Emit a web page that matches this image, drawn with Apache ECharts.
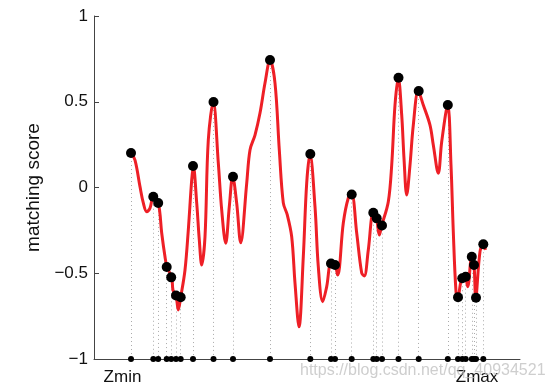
<!DOCTYPE html>
<html>
<head>
<meta charset="utf-8">
<script src="https://cdn.jsdelivr.net/npm/echarts@6/dist/echarts.min.js"></script>
<style>html,body{margin:0;padding:0;background:#fff;}#c{width:554px;height:392px;}</style>
</head>
<body>
<div id="c"></div>
<script>
// red matching-score curve (position along Z, score)
const curveX = [37,41,46,49.3,52.7,56,59.3,64.3,67.7,71,73,77.7,79,82,84.3,86.7,91,94.3,97.7,99.3,102.7,105.3,107.7,111,114.3,119.3,124.3,127.7,131.7,135.3,138.7,142.7,146.7,152.7,156,161,166,171,176,181,185.3,189.3,193.3,197.7,201,205,209.3,212.7,216,221,224.3,228.7,232.7,237,241,243.7,249.3,254.3,257.7,262.7,267.7,270.3,274.3,279.3,282.5,285.3,287.7,294.3,297.7,301,304.3,307.7,310,312.7,316,319.3,324.3,329.3,336,339.3,344.3,347.7,353.7,357,359.3,362,363.7,367.7,371,373.7,377.7,380,381.7,386,389.3,391.5];
const curveY = [0.201,0.160,0.005,-0.090,-0.141,-0.120,-0.054,-0.090,-0.265,-0.404,-0.464,-0.524,-0.598,-0.630,-0.714,-0.640,-0.481,-0.248,0.044,0.125,-0.090,-0.306,-0.452,-0.287,0.277,0.499,0.143,-0.131,-0.325,-0.112,0.063,-0.092,-0.322,0.024,0.219,0.306,0.434,0.609,0.743,0.609,0.219,-0.090,-0.160,-0.287,-0.557,-0.812,-0.403,0.026,0.195,-0.112,-0.462,-0.666,-0.578,-0.443,-0.452,-0.510,-0.207,-0.061,-0.041,-0.265,-0.499,-0.516,-0.364,-0.147,-0.180,-0.277,-0.222,-0.083,0.131,0.481,0.640,0.423,0.170,-0.044,0.131,0.364,0.563,0.481,0.364,0.248,0.083,0.267,0.481,0.131,-0.258,-0.608,-0.640,-0.529,-0.520,-0.578,-0.404,-0.452,-0.643,-0.374,-0.331,-0.364];
// detected local maxima
const dotX = [37,59.3,64.2,72.7,77.2,82,86.7,99,119.5,139,176,216.3,237,241,257.7,279.3,282.7,288,304.5,324.7,353.8,364,368.3,371.7,377.8,380,382,389.3];
const dotY = [0.201,-0.054,-0.090,-0.464,-0.524,-0.630,-0.640,0.125,0.499,0.063,0.743,0.195,-0.443,-0.452,-0.041,-0.147,-0.180,-0.222,0.640,0.563,0.481,-0.640,-0.529,-0.520,-0.404,-0.452,-0.643,-0.331];
const baseY = -1;
// x-axis tick labels
const xLabelPos = [28.5, 383];
const xLabelText = ['Zmin', 'Zmax'];
const yTicks = [-1, -0.5, 0, 0.5, 1];

const chart = echarts.init(document.getElementById('c'));
const font = 'Liberation Sans, Arial, Helvetica, sans-serif';
chart.setOption({
  animation: false,
  backgroundColor: '#fff',
  grid: { left: 94, right: 34, top: 16, bottom: 33 },
  xAxis: {
    type: 'value', min: 0, max: 426,
    axisLine: { show: true, onZero: false, lineStyle: { color: '#444', width: 1 } },
    axisTick: { show: false },
    splitLine: { show: false },
    axisLabel: {
      customValues: xLabelPos,
      margin: 10,
      color: '#111', fontSize: 17, fontFamily: font,
      formatter: v => { const i = xLabelPos.indexOf(v); return i >= 0 ? xLabelText[i] : ''; }
    }
  },
  yAxis: {
    type: 'value', min: yTicks[0], max: yTicks[yTicks.length-1], interval: 0.5,
    name: 'matching score', nameLocation: 'middle', nameGap: 50,
    nameTextStyle: { color: '#111', fontSize: 19, fontFamily: font },
    axisLine: { show: true, onZero: false, lineStyle: { color: '#444', width: 1 } },
    axisTick: { show: true, inside: true, length: 5, lineStyle: { color: '#444' } },
    splitLine: { show: false },
    axisLabel: {
      margin: 6, color: '#111', fontSize: 17, fontFamily: font,
      formatter: v => String(v).replace('-', '\u2212')
    }
  },
  graphic: [{
    type: 'text', left: 300, top: 363, z: 100,
    style: { text: 'https://blog.csdn.net/qq_40934521', fill: 'rgba(190,190,190,0.75)', fontSize: 16, fontFamily: font }
  }],
  series: [
    {
      type: 'scatter', z: 1,
      data: dotX.map(x => [x, baseY]),
      symbol: 'circle', symbolSize: 6,
      itemStyle: { color: '#000', opacity: 1, borderWidth: 0 },
      clip: false,
      markLine: {
        silent: true, symbol: ['none', 'none'], label: { show: false }, z: 0,
        lineStyle: { type: [1, 3], color: '#aaa', width: 1 },
        data: dotX.map((x, i) => [{ coord: [x, dotY[i]] }, { coord: [x, baseY] }])
      }
    },
    {
      type: 'line', z: 2,
      data: curveX.map((x, i) => [x, curveY[i]]),
      smooth: 0.35, showSymbol: false,
      lineStyle: { color: '#ee1f26', width: 3 }
    },
    {
      type: 'scatter', z: 3,
      data: dotX.map((x, i) => [x, dotY[i]]),
      symbol: 'circle', symbolSize: 10,
      itemStyle: { color: '#000', opacity: 1, borderWidth: 0 }
    }
  ]
});
</script>
</body>
</html>
